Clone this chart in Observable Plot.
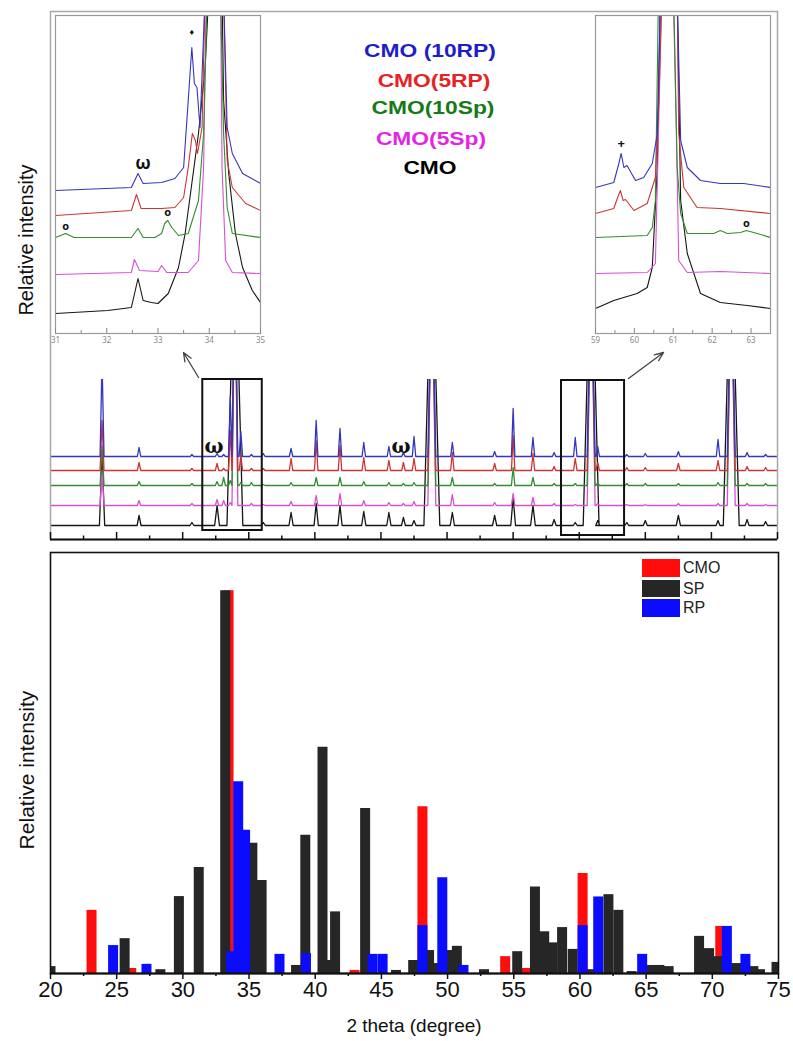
<!DOCTYPE html>
<html><head><meta charset="utf-8">
<script src="https://cdn.jsdelivr.net/npm/d3@7"></script>
<script src="https://cdn.jsdelivr.net/npm/@observablehq/plot@0.6"></script>
<style>
body{margin:0;background:#fff;}
#fig{position:relative;width:793px;height:1041px;background:#fff;font-family:"Liberation Sans",Arial,sans-serif;overflow:hidden}
#fig svg{position:absolute;background:transparent;overflow:visible}
.lab{position:absolute;white-space:nowrap;line-height:1}
</style></head><body><div id="fig"></div>
<script>
// ---------- DATA ----------
// Top panel: XRD patterns (peak positions in 2θ, peak heights above each trace's baseline)
const seriesNames = ["CMO (10RP)", "CMO(5RP)", "CMO(10Sp)", "CMO(5Sp)", "CMO"];
const seriesBase  = [83, 69, 54, 34, 14];
const peakPos = [23.9, 26.7, 30.7, 32.6, 33.1, 33.6, 33.95, 34.4, 35.2, 36.1, 38.2, 40.1, 41.9, 43.7, 45.6, 46.7, 47.5, 48.85, 50.4, 53.6, 55.0, 56.5, 58.1, 59.7, 60.9, 61.4, 63.6, 65.0, 67.5, 70.5, 71.5, 72.7, 74.1];
const peakHalfWidth    = [0.15, 0.13, 0.13, 0.13, 0.13, 0.13, 0.22, 0.13, 0.13, 0.13, 0.13, 0.13, 0.13, 0.13, 0.13, 0.13, 0.13, 0.3, 0.13, 0.13, 0.13, 0.13, 0.13, 0.13, 0.3, 0.13, 0.13, 0.13, 0.13, 0.13, 0.3, 0.13, 0.13];
const peakHalfWidthCMO = [0.2, 0.15, 0.15, 0.18, 0.13, 0.13, 0.6, 0.13, 0.13, 0.15, 0.16, 0.16, 0.16, 0.16, 0.16, 0.15, 0.15, 0.6, 0.16, 0.16, 0.18, 0.18, 0.15, 0.15, 0.6, 0.15, 0.15, 0.15, 0.16, 0.15, 0.6, 0.15, 0.15];
const peaks10RP = [95, 9, 2, 3, 2, 60, 200, 25, 2, 3, 8, 36, 28, 14, 10, 4, 20, 200, 14, 5, 48, 19, 4, 19, 200, 10, 2, 3, 5, 17, 200, 4, 2];
const peaks5RP  = [50, 8, 2, 7, 2, 40, 200, 15, 2, 2, 12, 30, 25, 13, 10, 8, 12, 200, 18, 7, 35, 17, 4, 12, 200, 8, 3, 3, 7, 10, 200, 4, 3];
const peaks10Sp = [40, 4, 2, 4, 8, 5, 220, 3, 3, 1, 3, 8, 8, 4, 3, 2, 3, 220, 8, 2, 18, 8, 2, 2, 220, 3, 2, 2, 2, 3, 220, 2, 2];
const peaks5Sp  = [35, 5, 2, 6, 5, 3, 240, 0, 2, 1, 4, 10, 12, 5, 3, 2, 4, 240, 11, 3, 12, 8, 2, 1, 240, 2, 1, 1, 2, 2, 240, 2, 1];
const peaksCMO  = [70, 10, 3, 20, 0, 0, 300, 0, 0, 3, 13, 22, 20, 14, 13, 8, 5, 300, 13, 10, 28, 20, 6, 3, 300, 5, 3, 5, 10, 5, 300, 6, 4];
const topTicksMajor = [20, 25, 30, 35, 40, 45, 50, 55, 60, 65, 70, 75];
const topTicksMinor = [22.5, 27.5, 32.5, 37.5, 42.5, 47.5, 52.5, 57.5, 62.5, 67.5, 72.5];
const zoomBoxes = [{x1: 31.52, x2: 36.02, y1: 9, y2: 160}, {x1: 58.66, x2: 63.43, y1: 4, y2: 159}];
const zoomArrows = [{x1: 31.2, y1: 162, x2: 30.06, y2: 187}, {x1: 63.73, y1: 161, x2: 66.38, y2: 187}];
const mainMarks = [{x: 32.37, y: 93, t: "ω"}, {x: 46.52, y: 93, t: "ω"}];

// Left inset (31–35°)
const insetLTicks = [31, 32, 33, 34, 35];
const insetLMinor = [31.5, 32.5, 33.5, 34.5];
const insetL10RP = [[31.0,143],[32.48,146],[32.61,160],[32.71,150],[33.07,151],[33.33,155],[33.5,166],[33.59,233],[33.66,286],[33.71,250],[33.76,246],[33.82,206],[33.92,340],[34.28,340],[34.35,206],[34.45,180],[34.65,160],[35.0,150]];
const insetL5RP  = [[31.0,118],[32.48,123],[32.58,139],[32.67,125],[33.07,125],[33.33,126],[33.5,136],[33.59,166],[33.67,200],[33.73,193],[33.77,180],[33.86,206],[33.92,340],[34.28,340],[34.35,173],[34.45,146],[34.71,130],[35.0,123]];
const insetL10Sp = [[31.0,96],[31.2,100],[31.36,96],[32.48,96],[32.61,105],[32.71,96],[32.94,96],[33.07,100],[33.13,110],[33.19,113],[33.27,106],[33.4,98],[33.59,100],[33.79,133],[33.89,200],[33.96,340],[34.22,340],[34.28,200],[34.35,126],[34.45,100],[35.0,96]];
const insetL5Sp  = [[31.0,59],[32.48,61],[32.54,74],[32.64,63],[33.0,62],[33.07,68],[33.17,61],[33.59,61],[33.79,73],[33.89,166],[33.94,340],[34.22,340],[34.25,166],[34.32,73],[34.45,61],[35.0,60]];
const insetLCMO  = [[31.0,20],[32.02,23],[32.48,26],[32.61,55],[32.71,33],[32.87,31],[33.0,30],[33.2,40],[33.4,66],[33.53,100],[33.66,150],[33.79,200],[33.92,266],[33.99,340],[34.25,340],[34.28,233],[34.38,160],[34.51,100],[34.65,66],[34.84,43],[35.0,31]];
const insetLMarks = [{x: 32.71, y: 170, t: "ω", s: 18, f: "DejaVu Serif"}, {x: 33.66, y: 301, t: "♦", s: 9, f: "DejaVu Sans"}, {x: 31.2, y: 107, t: "o", s: 11, f: "DejaVu Sans"}, {x: 33.19, y: 121, t: "o", s: 11, f: "DejaVu Sans"}];

// Right inset (59–63.5°)
const insetRTicks = [59, 60, 61, 62, 63];
const insetRMinor = [59.5, 60.5, 61.5, 62.5];
const insetR10RP = [[59.0,146],[59.47,151],[59.6,170],[59.66,180],[59.73,166],[59.81,168],[60.03,153],[60.24,156],[60.46,170],[60.59,200],[60.67,340],[61.1,340],[61.19,193],[61.36,166],[61.7,153],[62.21,150],[62.81,150],[63.5,146]];
const insetR5RP  = [[59.0,120],[59.47,125],[59.57,136],[59.64,143],[59.71,133],[59.77,134],[59.99,123],[60.33,130],[60.54,156],[60.63,233],[60.71,340],[61.1,340],[61.14,200],[61.27,146],[61.61,126],[62.21,125],[63.5,120]];
const insetR10Sp = [[59.0,96],[60.33,98],[60.46,106],[60.54,133],[60.62,340],[61.01,340],[61.1,166],[61.19,120],[61.36,100],[62.04,100],[62.21,103],[62.39,100],[62.73,101],[62.88,103],[63.16,100],[63.5,96]];
const insetR5Sp  = [[59.0,60],[60.33,61],[60.54,70],[60.62,200],[60.7,340],[61.0,340],[61.08,200],[61.14,73],[61.36,61],[62.21,62],[63.5,60]];
const insetRCMO  = [[59.0,25],[59.47,33],[60.07,40],[60.33,46],[60.46,66],[60.59,166],[60.67,340],[61.1,340],[61.19,133],[61.36,80],[61.7,40],[62.21,31],[62.9,28],[63.5,25]];
const insetRMarks = [{x: 59.66, y: 190, t: "+", s: 13, f: "DejaVu Sans"}, {x: 62.88, y: 110, t: "o", s: 11, f: "DejaVu Sans"}];

// Bottom panel: reference line patterns (relative intensity, %)
const cmoPos = [23.1, 26.1, 33.45, 42.97, 48.1, 54.35, 55.9, 60.2, 70.6];
const cmoInt = [16.5, 1.3, 100, 0.8, 43.6, 4.4, 1.3, 26.1, 12.3];
const spPos = [20.0, 25.6, 28.3, 29.7, 31.2, 33.2, 35.25, 35.95, 38.55, 39.25, 40.55, 41.1, 41.5, 43.77, 46.1, 47.4, 48.6, 48.9, 50.1, 50.7, 52.75, 55.26, 56.6, 57.3, 57.9, 58.65, 59.45, 60.7, 62.15, 62.9, 63.9, 65.4, 66.0, 66.7, 69.0, 69.75, 70.5, 71.8, 73.1, 73.6, 74.85];
const spInt = [1.8, 9.1, 1.0, 20.1, 27.7, 100, 34.0, 24.3, 2.1, 36.1, 59.1, 3.4, 16.1, 43.1, 0.8, 3.4, 6.0, 2.6, 6.0, 7.1, 1.0, 5.7, 22.6, 10.9, 8.0, 12.0, 6.3, 1.0, 20.6, 16.5, 0.5, 2.1, 2.1, 1.8, 9.7, 6.5, 4.4, 2.6, 1.8, 1.0, 2.9];
const rpPos = [24.73, 27.25, 33.65, 34.18, 34.7, 37.3, 39.3, 44.33, 45.09, 48.1, 49.6, 51.2, 60.2, 61.38, 64.7, 71.1, 72.5];
const rpInt = [7.3, 2.4, 5.7, 50.1, 37.4, 5.0, 5.2, 5.0, 5.0, 12.5, 25.0, 2.1, 12.5, 20.0, 5.0, 12.3, 5.0];
const xTickLabels = [20, 25, 30, 35, 40, 45, 50, 55, 60, 65, 70, 75];
const xTickMinor = [22.5, 27.5, 32.5, 37.5, 42.5, 47.5, 52.5, 57.5, 62.5, 67.5, 72.5];
const barLegend = ["CMO", "SP", "RP"];

// ---------- STYLES ----------
const traceColors = ["#3535c0", "#cc3535", "#2f8f2f", "#d650d6", "#151515"];
const legendColors = ["#1e1ec8", "#e62222", "#167a16", "#e425e4", "#000000"];
const barColors = ["#ff0d0d", "#262626", "#0b0bff"];

const fig = document.getElementById("fig");
function place(el, left, top) { el.style.left = left + "px"; el.style.top = top + "px"; fig.append(el); return el; }
function label(text, left, top, css) {
  const d = document.createElement("div"); d.className = "lab"; d.textContent = text;
  d.style.left = left + "px"; d.style.top = top + "px"; Object.assign(d.style, css || {}); fig.append(d); return d;
}

// build a trace polyline from baseline + peak list
function tracePoints(base, heights, widths) {
  const pts = [[20, base]];
  peakPos.forEach((p, i) => {
    const h = heights[i]; if (!h) return;
    const w = widths[i];
    pts.push([p - w, base], [p, base + h], [p + w, base]);
  });
  pts.push([75, base]);
  return pts;
}
const mainSeries = [peaks10RP, peaks5RP, peaks10Sp, peaks5Sp, peaksCMO].map((h, i) =>
  tracePoints(seriesBase[i], h, i === 4 ? peakHalfWidthCMO : peakHalfWidth));
const drawOrder = [4, 3, 2, 1, 0];

// ---------- TOP PANEL: traces (clipped) ----------
const traces = Plot.plot({
  width: 793, height: 160, marginLeft: 50, marginRight: 16, marginTop: 0, marginBottom: 0,
  x: {domain: [20, 75], axis: null}, y: {domain: [0, 160], axis: null},
  marks: drawOrder.map(i => Plot.line(mainSeries[i], {x: d => d[0], y: d => d[1], stroke: traceColors[i], strokeWidth: 1.3, clip: true}))
});
place(traces, 0, 379);

// ---------- TOP PANEL: frame, ticks, boxes, arrows ----------
const topBase = Plot.plot({
  width: 793, height: 545, marginLeft: 50, marginRight: 16, marginTop: 11, marginBottom: 6,
  x: {domain: [20, 75], axis: null}, y: {domain: [0, 528], axis: null},
  marks: [
    Plot.frame({stroke: "#a8a8a8", strokeWidth: 1.5}),
    Plot.rect(zoomBoxes, {x1: "x1", x2: "x2", y1: "y1", y2: "y2", fill: "none", stroke: "#111", strokeWidth: 2}),
    Plot.arrow(zoomArrows, {x1: "x1", y1: "y1", x2: "x2", y2: "y2", stroke: "#444", strokeWidth: 1.3, headLength: 11, headAngle: 45}),
    Plot.text(mainMarks, {x: "x", y: "y", text: "t", fontSize: 20, fontWeight: "bold", fontFamily: "DejaVu Serif", fill: "#111"}),
    Plot.ruleX(topTicksMajor, {x: d => d, y1: 0, y2: 7, stroke: "#111", strokeWidth: 1.5}),
    Plot.ruleX(topTicksMinor, {x: d => d, y1: 0, y2: 3.5, stroke: "#111", strokeWidth: 1.5}),
    Plot.ruleY([0], {stroke: "#111", strokeWidth: 2.2})
  ]
});
place(topBase, 0, 0);

// ---------- INSETS ----------
function inset(domain, series, ticks, minor, marksData, w) {
  return Plot.plot({
    width: w + 10, height: 340, marginLeft: 5, marginRight: 5, marginTop: 5, marginBottom: 17,
    x: {domain}, y: {domain: [0, 318], axis: null},
    marks: [
      ...drawOrder.map(i => Plot.line(series[i], {x: d => d[0], y: d => d[1], stroke: traceColors[i], strokeWidth: 1.1, clip: true})),
      Plot.frame({stroke: "#9a9a9a", strokeWidth: 1.2}),
      Plot.ruleX(ticks, {x: d => d, y1: 0, y2: 5, stroke: "#888"}),
      Plot.ruleX(minor, {x: d => d, y1: 0, y2: 3, stroke: "#888"}),
      Plot.axisX(ticks, {tickSize: 0, tickPadding: 4, fontSize: 8, color: "#8a8a8a", label: null}),
      Plot.text(marksData, {x: "x", y: "y", text: "t", fontSize: d => d.s, fontFamily: d => d.f, fontWeight: "bold", fill: "#111"})
    ]
  });
}
place(inset([31, 35], [insetL10RP, insetL5RP, insetL10Sp, insetL5Sp, insetLCMO], insetLTicks, insetLMinor, insetLMarks, 205), 50, 10);
place(inset([59, 63.5], [insetR10RP, insetR5RP, insetR10Sp, insetR5Sp, insetRCMO], insetRTicks, insetRMinor, insetRMarks, 175), 590, 10);

// ---------- TOP legend ----------
const legY = [50, 80, 107, 138, 167];
const legX = [430, 434, 433, 431, 430];
seriesNames.forEach((n, i) => {
  label(n, legX[i], legY[i], {color: legendColors[i], fontWeight: "bold", fontSize: "19px",
    transform: "translate(-50%,-50%) scaleX(1.2)"});
});
label("Relative intensity", 26, 240, {fontSize: "20px", color: "#111", transform: "translate(-50%,-50%) rotate(-90deg)"});

// ---------- BOTTOM PANEL ----------
const bars = (pos, val) => pos.map((p, i) => ({pos: p, v: val[i]}));
const bottom = Plot.plot({
  width: 793, height: 501, marginLeft: 50, marginRight: 15, marginTop: 12, marginBottom: 68,
  style: {fontFamily: "Liberation Sans, Arial, sans-serif", color: "#111"},
  x: {domain: [20, 75]}, y: {domain: [0, 110], axis: null},
  marks: [
    Plot.ruleX(bars(cmoPos, cmoInt), {x: "pos", y1: 0, y2: "v", stroke: barColors[0], strokeWidth: 10, clip: true}),
    Plot.ruleX(bars(spPos, spInt), {x: "pos", y1: 0, y2: "v", stroke: barColors[1], strokeWidth: 10, clip: true}),
    Plot.ruleX(bars(rpPos, rpInt), {x: "pos", y1: 0, y2: "v", stroke: barColors[2], strokeWidth: 10, clip: true}),
    Plot.frame({stroke: "#111", strokeWidth: 1.6}),
    Plot.ruleY([0], {stroke: "#111", strokeWidth: 2}),
    Plot.axisX(xTickLabels, {tickSize: 6, tickPadding: 2, fontSize: 22, label: null, strokeWidth: 1.5}),
    Plot.axisX(xTickMinor, {tickSize: 3, tickFormat: () => "", label: null, strokeWidth: 1.5})
  ]
});
place(bottom, 0, 540);

label("2 theta (degree)", 414, 1025, {fontSize: "19px", color: "#111", transform: "translate(-50%,-50%)"});
label("Relative intensity", 26, 770, {fontSize: "21px", color: "#111", transform: "translate(-50%,-50%) rotate(-90deg)"});

// bottom legend
const swY = [559, 580, 599];
const swH = [18, 17, 18];
barLegend.forEach((n, i) => {
  const s = document.createElement("div");
  Object.assign(s.style, {position: "absolute", left: "642px", top: swY[i] + "px", width: "38px", height: swH[i] + "px", background: barColors[i]});
  fig.append(s);
  label(n, 683, swY[i] + swH[i] / 2, {fontSize: "16px", color: "#222", transform: "translateY(-50%)"});
});
</script></body></html>
